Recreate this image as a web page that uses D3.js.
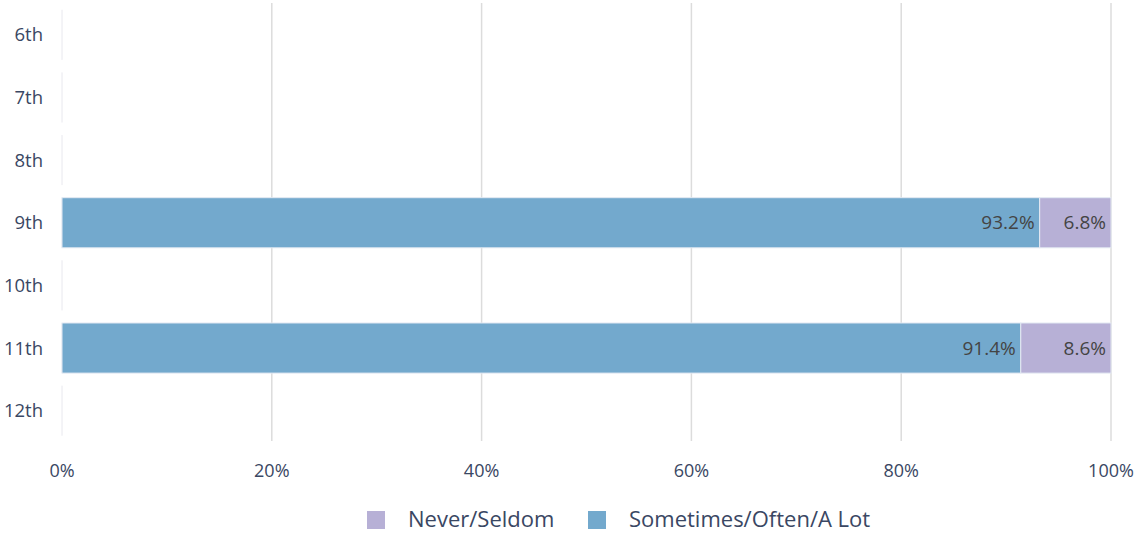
<!DOCTYPE html>
<html>
<head>
<meta charset="utf-8">
<script src="https://cdn.jsdelivr.net/npm/d3@7"></script>
<style>
  body { margin: 0; background: #fff; }
  text { font-family: "Open Sans", sans-serif; }
</style>
</head>
<body>
<script>
// chart data
var grades = ["6th", "7th", "8th", "9th", "10th", "11th", "12th"];
var sometimes = [null, null, null, 93.2, null, 91.4, null];
var never = [null, null, null, 6.8, null, 8.6, null];
var xTicks = [0, 20, 40, 60, 80, 100];
var seriesNames = ["Never/Seldom", "Sometimes/Often/A Lot"];
var seriesColors = ["#b7b0d6", "#73a9cd"];

function drawChart(){
    var W = 1137, H = 533;
    var svg = d3.select("body").append("svg")
                .attr("width", W)
                .attr("height", H);

    var xScale = d3.scaleLinear().domain([0, 100]).range([62, 1111]);
    var yScale = d3.scaleBand().domain(grades).range([3.5, 442]).paddingInner(0.2).paddingOuter(0.1);

    // gridlines
    svg.append("g").selectAll("line")
        .data(xTicks.slice(1))
        .enter().append("line")
        .attr("x1", function(d){ return xScale(d) })
        .attr("x2", function(d){ return xScale(d) })
        .attr("y1", 3).attr("y2", 441)
        .attr("stroke", "#dcdcdc")
        .attr("stroke-width", 1.5);

    // zero line, broken per band
    svg.append("g").selectAll("line")
        .data(grades)
        .enter().append("line")
        .attr("x1", xScale(0)).attr("x2", xScale(0))
        .attr("y1", function(d){ return yScale(d) })
        .attr("y2", function(d){ return yScale(d) + yScale.bandwidth() })
        .attr("stroke", "#e8e8ee")
        .attr("stroke-width", 1);

    // x axis labels
    svg.append("g").selectAll("text")
        .data(xTicks)
        .enter().append("text")
        .attr("x", function(d){ return xScale(d) })
        .attr("y", 477)
        .attr("text-anchor", "middle")
        .attr("font-size", 18)
        .attr("fill", "#3a4763")
        .text(function(d){ return d + "%" });

    // y axis labels
    svg.append("g").selectAll("text")
        .data(grades)
        .enter().append("text")
        .attr("x", 43)
        .attr("y", function(d){ return yScale(d) + yScale.bandwidth() / 2 })
        .attr("dy", "0.35em")
        .attr("text-anchor", "end")
        .attr("font-size", 18.5)
        .attr("fill", "#3a4763")
        .text(function(d){ return d });

    // bars
    var rows = grades.map(function(g, i){
        return { grade: g, sometimes: sometimes[i], never: never[i] };
    }).filter(function(d){ return d.sometimes != null });

    var segs = [];
    rows.forEach(function(d){
        segs.push({ grade: d.grade, x0: 0, x1: d.sometimes, v: d.sometimes, color: seriesColors[1] });
        segs.push({ grade: d.grade, x0: d.sometimes, x1: d.sometimes + d.never, v: d.never, color: seriesColors[0] });
    });

    var bars = svg.append("g");
    bars.selectAll("rect")
        .data(segs)
        .enter().append("rect")
        .attr("x", function(d){ return xScale(d.x0) })
        .attr("y", function(d){ return yScale(d.grade) })
        .attr("width", function(d){ return xScale(d.x1) - xScale(d.x0) })
        .attr("height", yScale.bandwidth())
        .attr("fill", function(d){ return d.color })
        .attr("stroke", "#e4eaf3")
        .attr("stroke-width", 1);

    bars.selectAll("text")
        .data(segs)
        .enter().append("text")
        .attr("x", function(d){ return xScale(d.x1) - 5 })
        .attr("y", function(d){ return yScale(d.grade) + yScale.bandwidth() / 2 })
        .attr("dy", "0.35em")
        .attr("text-anchor", "end")
        .attr("font-size", 19)
        .attr("fill", "#444")
        .text(function(d){ return d.v.toFixed(1) + "%" });

    // legend
    var legend = svg.append("g");
    var legX = [367, 588];
    seriesNames.forEach(function(name, i){
        legend.append("rect")
            .attr("x", legX[i]).attr("y", 511)
            .attr("width", 18).attr("height", 18)
            .attr("fill", seriesColors[i]);
        legend.append("text")
            .attr("x", legX[i] + 41).attr("y", 519)
            .attr("dy", "0.35em")
            .attr("font-size", 22)
            .attr("fill", "#3a4763")
            .text(name);
    });
}

drawChart();
</script>
</body>
</html>
